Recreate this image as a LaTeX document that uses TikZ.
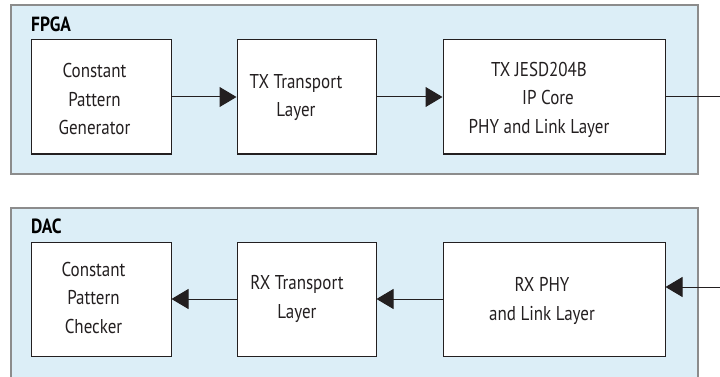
\documentclass[tikz,border=0pt]{standalone}
\usepackage{fontspec}
\setmainfont[FakeStretch=0.85]{PT Sans}
\usetikzlibrary{arrows.meta}
\definecolor{panelfill}{HTML}{DCEEF7}
\definecolor{panelline}{HTML}{8C8C8C}
\definecolor{ink}{HTML}{231F20}
\tikzset{
  panel/.style={fill=panelfill, draw=panelline, line width=1.5pt},
  blk/.style={draw=ink, fill=white, line width=1pt, inner sep=0pt},
  txt/.style={align=center, font=\fontsize{20}{28.5}\selectfont, text=ink, inner sep=0pt},
  ttl/.style={anchor=west, font=\fontsize{20.5}{22}\selectfont\bfseries, text=black, inner sep=0pt},
  arr/.style={draw=ink, line width=1pt, -{Triangle[length=17pt,width=20pt]}},
  ln/.style={draw=ink, line width=1pt}
}
\begin{document}
\begin{tikzpicture}[x=1pt,y=-1pt]
\useasboundingbox (0,0) rectangle (720,377);
% FPGA panel
\path[panel] (11,5) rectangle (698,174);
\node[ttl] (fpga) at (31,24.5) {FPGA};
% DAC panel
\fill[panelfill] (11,208) rectangle (698,377);
\draw[panelline, line width=1.5pt] (11,377) -- (11,208) -- (698,208) -- (698,377);
\node[ttl] (dac) at (31,226.5) {DAC};
% top blocks
\node[blk, minimum width=140pt, minimum height=114pt] (b1) at (101,97) {};
\node[blk, minimum width=139pt, minimum height=114pt] (b2) at (306.5,97) {};
\node[blk, minimum width=222pt, minimum height=114pt] (b3) at (554,97) {};
\node[txt] (t1) at (94.5,99.5) {Constant\\Pattern\\Generator};
\node[txt] (t2) at (296,97.5) {TX Transport\\Layer};
\node[txt] (t3) at (539,99.5) {TX JESD204B\\\hspace*{18pt}IP Core\\PHY and Link Layer};
% bottom blocks
\node[blk, minimum width=140pt, minimum height=114pt] (b4) at (101,299) {};
\node[blk, minimum width=139pt, minimum height=114pt] (b5) at (306.5,299) {};
\node[blk, minimum width=222pt, minimum height=114pt] (b6) at (554,299) {};
\node[txt] (t4) at (93.5,297.5) {Constant\\Pattern\\Checker};
\node[txt] (t5) at (297,299) {RX Transport\\Layer};
\node[txt] (t6) at (542,301) {RX PHY\\and Link Layer};
% connectors
\coordinate (outR) at (720,97);
\coordinate (inR) at (720,287);
\draw[arr] (b1.east) -- (b2.west);
\draw[arr] (b2.east) -- (b3.west);
\draw[ln] (b3.east) -- (outR);
\draw[arr] (inR) -- (inR -| b6.east);
\draw[arr] (b6.west) -- (b5.east);
\draw[arr] (b5.west) -- (b4.east);
\end{tikzpicture}
\end{document}
